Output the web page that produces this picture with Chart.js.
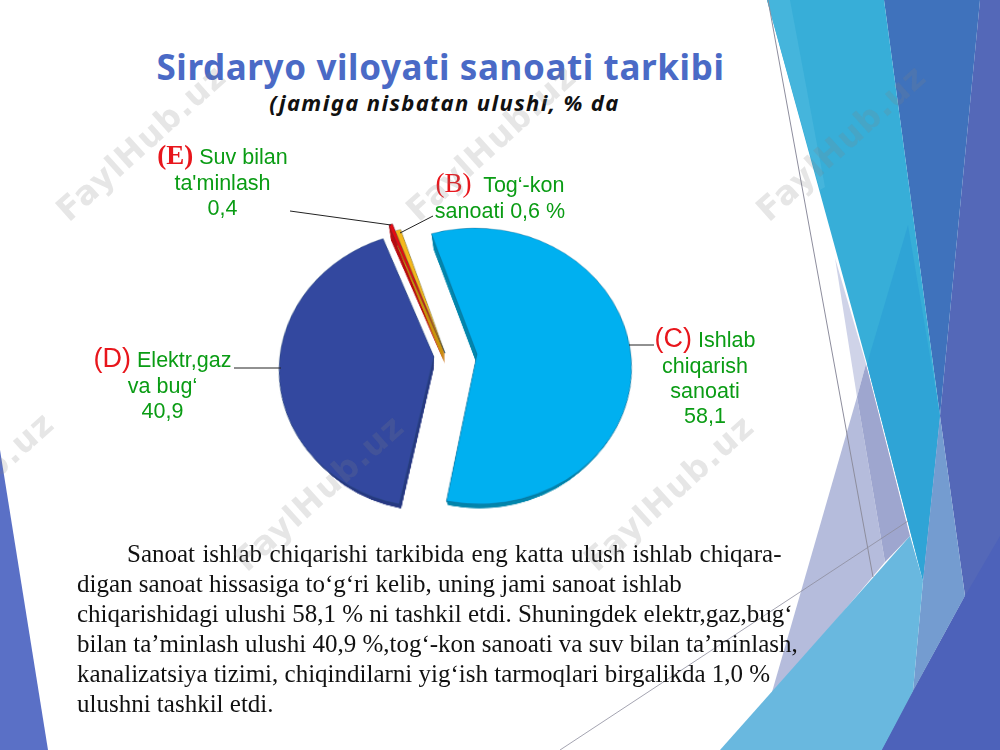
<!DOCTYPE html>
<html>
<head>
<meta charset="utf-8">
<script src="https://cdn.jsdelivr.net/npm/chart.js@4"></script>
<style>
  html, body { margin: 0; padding: 0; background: #fff; }
  #slide { position: relative; width: 1000px; height: 750px; overflow: hidden; background: #fff; }
  #decor, #lines { position: absolute; left: 0; top: 0; }
  #pieBox { position: absolute; left: 155px; top: 55px; width: 600px; height: 600px;
            transform: perspective(800px) rotateX(27deg); transform-origin: 50% 50%; }
  .t { position: absolute; white-space: nowrap; }
  #title { left: 0; width: 881px; top: 43px; text-align: center; font: 700 35px "Noto Sans", sans-serif; letter-spacing: 0.62px; color: #4a6ac6; }
  #sub { left: 0; width: 889px; top: 87px; text-align: center; font: italic 700 22px "Noto Sans", sans-serif; letter-spacing: 1.4px; color: #111; }
  .lab { position: absolute; text-align: center; white-space: nowrap; color: #0a9c14;
         font: 21.5px/25px "Liberation Sans", sans-serif; }
  .lab b, .lab i { color: #e8161c; font-style: normal; }
  .body { font: 25px "Liberation Serif", serif; color: #111; }
  .wm { position: absolute; white-space: nowrap; font: bold 33px "DejaVu Sans", sans-serif; color: rgba(130,130,130,.2);
        transform-origin: 0 100%; transform: rotate(-42deg); letter-spacing: 1px; }
</style>
</head>
<body>
<div id="slide">
  <svg id="decor" width="1000" height="750">
    <polygon points="980,0 1000,0 1000,750 880,750 965,596 940,416" fill="#5468b8"/>
    <polygon points="884,0 980,0 940,416" fill="#3f72bc"/>
    <polygon points="767,0 884,0 940,416 923,581 867,364" fill="#37aed8"/>
    <polygon points="767,0 790,0 825,187 820,190" fill="#45b5dc"/>
    <polygon points="908,225 940,416 923,581 867,364" fill="#2fa4d6"/>
    <polygon points="835,258 866,364 857,397" fill="#cfd3e8"/>
    <polygon points="857,397 885,562 770,699" fill="#b5bcdc"/>
    <polygon points="866,364 910,536 885,562 857,397" fill="#9ea6cf"/>
    <polygon points="940,416 965,596 913,691 923,581" fill="#749cd0"/>
    <polygon points="910,536 923,581 913,691 882,750 720,750" fill="#69b8df"/>
    <polygon points="1000,536 965,596 882,750 1000,750" fill="#4d62ba"/>
    <polygon points="0,450 48,750 0,750" fill="#5a70c6"/>
    <line x1="768" y1="0" x2="873" y2="577" stroke="#8d8d9d" stroke-width="1"/>
    <line x1="560" y1="750" x2="908" y2="521" stroke="#8d8d9d" stroke-width=".8"/>
  </svg>

  <div id="title" class="t">Sirdaryo viloyati sanoati tarkibi</div>
  <div id="sub" class="t">(jamiga nisbatan ulushi, % da</div>

  <div id="pieBox"><canvas id="pie" width="600" height="600"></canvas></div>

  <svg id="lines" width="1000" height="750">
    <g stroke="#222" stroke-width="1" fill="none">
      <line x1="290" y1="211" x2="391" y2="225"/>
      <line x1="400" y1="233" x2="433" y2="216"/>
      <line x1="234" y1="368" x2="281" y2="368"/>
      <line x1="629" y1="345" x2="654" y2="345"/>
    </g>
  </svg>

  <div class="lab" id="labE" style="left:120px;top:140px;width:205px"></div>
  <div class="lab" id="labB" style="left:400px;top:168px;width:200px"></div>
  <div class="lab" id="labD" style="left:80px;top:343px;width:165px"></div>
  <div class="lab" id="labC" style="left:645px;top:323px;width:120px"></div>

  <div id="text"></div>
  <div id="marks"></div>
</div>

<script>
// chart data, clockwise from the big slice
const letters = ['C', 'D', 'E', 'B'];
const categories = ['Ishlab chiqarish sanoati', 'Elektr,gaz va bug‘', "Suv bilan ta'minlash", 'Tog‘-kon sanoati'];
const values = [58.1, 40.9, 0.4, 0.6];
const valueLabels = ['58,1', '40,9', '0,4', '0,6 %'];

const faceColors = ['#00b0f0', '#33489f', '#e60a12', '#f5b81c'];
const wallColors = ['#0587ad', '#2a3b84', '#b80c10', '#c9960f'];
const shiftX = [22, -21, -10, -10];
const shiftY = [-1, 2, -2, -2];
const radiusAdd = [0, 0, 15, 5];
const depth = 12;
const wallShrink = 0.7;

const bodyLines = [
  'Sanoat ishlab chiqarishi tarkibida eng katta ulush ishlab chiqara-',
  'digan sanoat hissasiga to‘g‘ri kelib, uning jami sanoat ishlab',
  'chiqarishidagi ulushi 58,1 % ni tashkil etdi. Shuningdek elektr,gaz,bug‘',
  'bilan ta’minlash ulushi 40,9 %,tog‘-kon sanoati va suv bilan ta’minlash,',
  'kanalizatsiya tizimi, chiqindilarni yig‘ish tarmoqlari birgalikda 1,0 %',
  'ulushni tashkil etdi.'
];

// pull the slices apart and draw the side wall under them
const pieExplode = {
  id: 'pieExplode',
  afterDatasetUpdate(chart) {
    chart.getDatasetMeta(0).data.forEach((arc, i) => {
      arc.x += shiftX[i];
      arc.y += shiftY[i];
      arc.outerRadius += radiusAdd[i];
    });
  },
  beforeDatasetsDraw(chart) {
    const c = chart.ctx;
    chart.getDatasetMeta(0).data.forEach((arc, i) => {
      c.fillStyle = wallColors[i];
      for (let d = depth; d > 0; d -= 0.5) {
        c.beginPath();
        c.moveTo(arc.x, arc.y + d);
        c.arc(arc.x, arc.y + d, arc.outerRadius - d * wallShrink, arc.startAngle, arc.endAngle);
        c.closePath();
        c.fill();
      }
    });
  }
};

new Chart(document.getElementById('pie').getContext('2d'), {
  type: 'pie',
  data: {
    labels: categories,
    datasets: [{
      data: values,
      backgroundColor: faceColors,
      borderColor: 'rgba(20,60,90,0.55)',
      borderWidth: 0.6,
      radius: 154
    }]
  },
  options: {
    responsive: false,
    animation: false,
    rotation: -18,
    plugins: { legend: { display: false }, tooltip: { enabled: false } }
  },
  plugins: [pieExplode]
});

// data labels
document.getElementById('labE').innerHTML = '<b style="font:bold 27px \'Liberation Serif\'">(' + letters[2] + ')</b> Suv bilan<br>ta\'minlash<br>' + valueLabels[2];
document.getElementById('labB').innerHTML = '<i style="font:27px \'Liberation Serif\'">(' + letters[3] + ')</i>&nbsp; Tog‘-kon<br>sanoati ' + valueLabels[3];
document.getElementById('labD').innerHTML = '<i style="font:27px \'Liberation Sans\'">(' + letters[1] + ')</i> Elektr,gaz<br>va bug‘<br>' + valueLabels[1];
document.getElementById('labC').innerHTML = '<i style="font:27px \'Liberation Sans\'">(' + letters[0] + ')</i> Ishlab<br>chiqarish<br>sanoati<br>' + valueLabels[0];

const textBox = document.getElementById('text');
bodyLines.forEach((line, i) => {
  const el = document.createElement('div');
  el.className = 't body';
  el.textContent = line;
  el.style.left = (i === 0 ? 127 : 77) + 'px';
  el.style.top = (540 + i * 29.9) + 'px';
  if (i === 0) el.style.wordSpacing = '1.1px';
  textBox.appendChild(el);
});

// watermark
const markSpots = [[74, 228], [424, 228], [774, 228], [-98, 575], [252, 578], [602, 578]];
const markBox = document.getElementById('marks');
markSpots.forEach(p => {
  const el = document.createElement('div');
  el.className = 'wm';
  el.textContent = 'FaylHub.uz';
  el.style.left = p[0] + 'px';
  el.style.top = (p[1] - 38) + 'px';
  markBox.appendChild(el);
});
</script>
</body>
</html>
